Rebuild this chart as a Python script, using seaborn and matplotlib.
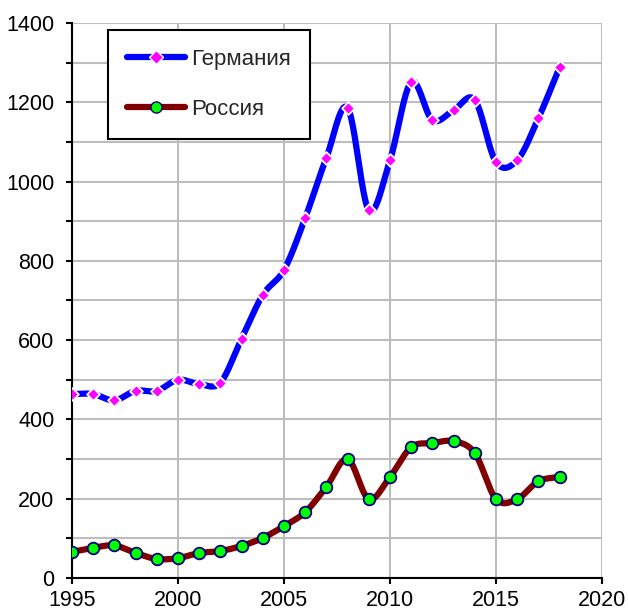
import numpy as np
import pandas as pd
import matplotlib
matplotlib.use("Agg")
import matplotlib.pyplot as plt
from matplotlib.lines import Line2D
from matplotlib.ticker import MultipleLocator
import seaborn as sns

years = list(range(1995, 2019))
germany = [464, 464, 448, 472, 472, 500, 489, 493, 604, 714, 777, 908, 1060, 1186,
           928, 1054, 1251, 1155, 1180, 1206, 1049, 1054, 1160, 1288]
russia = [66, 76, 82, 63, 48, 50, 63, 68, 81, 101, 131, 166, 230, 300,
          199, 255, 330, 340, 345, 315, 199, 199, 244, 255]
labels = ["Германия", "Россия"]


def smooth(x, y, n=24):
    # Catmull-Rom curve through the points, like Excel's smoothed line
    x = np.asarray(x, float)
    y = np.asarray(y, float)
    px = np.concatenate([[2 * x[0] - x[1]], x, [2 * x[-1] - x[-2]]])
    py = np.concatenate([[2 * y[0] - y[1]], y, [2 * y[-1] - y[-2]]])
    t = np.linspace(0, 1, n, endpoint=False)
    xs, ys = [], []
    for i in range(1, len(px) - 2):
        for p, out in ((px, xs), (py, ys)):
            p0, p1, p2, p3 = p[i - 1], p[i], p[i + 1], p[i + 2]
            out.append(0.5 * ((2 * p1) + (-p0 + p2) * t
                              + (2 * p0 - 5 * p1 + 4 * p2 - p3) * t ** 2
                              + (-p0 + 3 * p1 - 3 * p2 + p3) * t ** 3))
    xs.append([x[-1]])
    ys.append([y[-1]])
    return np.concatenate(xs), np.concatenate(ys)


sns.set_theme(style="white")
plt.rcParams["font.family"] = ["Liberation Sans", "DejaVu Sans"]

fig = plt.figure(figsize=(6.28, 6.12), dpi=100)
ax = fig.add_axes([0.1146, 0.0556, 0.844, 0.9068])

styles = {
    "Германия": dict(line="#0000FF", marker="D", face="#FF00FF", edge="white", size=42),
    "Россия": dict(line="#800000", marker="o", face="#00FF00", edge="#000080", size=70),
}

for name, vals in zip(labels, [germany, russia]):
    st = styles[name]
    sx, sy = smooth(years, vals)
    sns.lineplot(x=sx, y=sy, sort=False, ax=ax, color=st["line"], linewidth=4.5,
                 solid_capstyle="round", zorder=3)
    sns.scatterplot(x=years, y=vals, ax=ax, marker=st["marker"], color=st["face"],
                    edgecolor=st["edge"], linewidth=1.3, s=st["size"], zorder=4)

ax.set_xlim(1995, 2020)
ax.set_ylim(0, 1400)
ax.xaxis.set_major_locator(MultipleLocator(5))
ax.yaxis.set_major_locator(MultipleLocator(200))
ax.yaxis.set_minor_locator(MultipleLocator(100))
ax.grid(True, which="both", color="#BDBDBD", linewidth=1.5)
ax.set_axisbelow(True)

for s in ["top", "right"]:
    ax.spines[s].set_visible(False)
for s in ["left", "bottom"]:
    ax.spines[s].set_color("black")
    ax.spines[s].set_linewidth(1.5)

ax.tick_params(axis="both", which="both", direction="out", length=4.5, width=1.5,
               colors="black", labelsize=15.5)
ax.tick_params(axis="both", which="major", left=True, bottom=True)
ax.tick_params(axis="y", which="minor", left=True)
ax.tick_params(axis="y", pad=8)
ax.tick_params(axis="x", pad=4.5)

handles = []
for name in labels:
    st = styles[name]
    handles.append(Line2D([], [], color=st["line"], linewidth=4.5, marker=st["marker"],
                          markerfacecolor=st["face"], markeredgecolor=st["edge"],
                          markersize=8 if name == "Россия" else 7,
                          solid_capstyle="round"))
leg = ax.legend(handles, labels, loc="upper left", bbox_to_anchor=(0.068, 0.987),
                fontsize=16, frameon=True, fancybox=False, framealpha=1,
                edgecolor="black", handlelength=2.6, borderpad=0.85, labelspacing=1.3,
                handletextpad=0.3, borderaxespad=0)
leg.get_frame().set_linewidth(1.5)

fig.savefig("out.png", dpi=100)
